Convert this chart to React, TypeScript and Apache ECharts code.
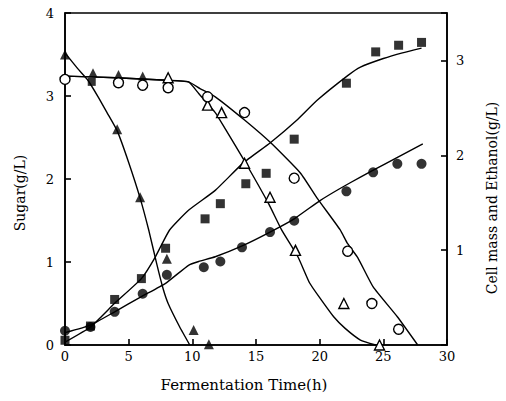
import React, { useEffect, useRef } from 'react';
import * as echarts from 'echarts';

// ---- Data (time h, value g/L) ----
// Sugar (left axis)
const fastSugarPoints = [[0, 3.5], [4.1, 2.6], [5.9, 1.78], [8.0, 1.04], [10.1, 0.18], [11.3, 0.01]];
const flatTrianglePoints = [[2.2, 3.28], [4.2, 3.26], [6.1, 3.24]];
const oddSquarePoint = [[2.1, 3.17]];
const slowSugarTrianglePoints = [[8.1, 3.22], [11.2, 2.89], [12.3, 2.8], [14.1, 2.19], [16.1, 1.78], [18.1, 1.14], [21.9, 0.5], [24.7, 0]];
const slowSugarCirclePoints = [[0, 3.2], [4.2, 3.16], [6.1, 3.13], [8.1, 3.1], [11.2, 2.99], [14.1, 2.8], [18.0, 2.01], [22.2, 1.13], [24.1, 0.5], [26.2, 0.19]];

const fastSugarCurve = [[0, 3.52], [1, 3.33], [1.8, 3.19], [2.6, 2.99], [3.3, 2.8], [4.1, 2.58], [5, 2.2], [5.9, 1.77], [6.6, 1.37], [7.2, 0.98], [7.7, 0.68], [8.1, 0.5], [9, 0.22], [9.8, 0]];
const triangleCurve = [[0, 3.24], [4, 3.22], [8, 3.19], [9.7, 3.17], [10.5, 3.03], [11.8, 2.8], [12.6, 2.6], [14.2, 2.19], [16, 1.7], [17, 1.39], [18.3, 1.06], [19.2, 0.75], [20, 0.57], [21.1, 0.34], [22, 0.2], [23.2, 0.06], [24.4, 0]];
const circleCurve = [[0, 3.24], [4, 3.22], [8, 3.19], [9.7, 3.17], [10.6, 3.09], [11.8, 2.99], [14.1, 2.71], [16.2, 2.43], [18.5, 2.07], [19.8, 1.77], [21.6, 1.39], [22.2, 1.22], [23, 1.05], [24.2, 0.7], [26.1, 0.34], [27.7, 0]];

// Cell mass and ethanol (right axis)
const cellMassPoints = [[0, 0.05], [2, 0.2], [3.9, 0.48], [6.0, 0.7], [7.9, 1.02], [11.0, 1.33], [12.2, 1.49], [14.2, 1.7], [15.8, 1.81], [18.0, 2.17], [22.1, 2.76], [24.4, 3.09], [26.2, 3.16], [28.0, 3.19]];
const ethanolPoints = [[0, 0.15], [2, 0.19], [3.9, 0.35], [6.1, 0.54], [8.0, 0.74], [10.9, 0.82], [12.2, 0.88], [13.9, 1.03], [16.1, 1.19], [18.0, 1.31], [22.1, 1.62], [24.2, 1.82], [26.1, 1.91], [28.0, 1.91]];
const cellMassCurve = [[0, 0.03], [2, 0.19], [3.9, 0.44], [6.0, 0.7], [7.1, 0.93], [8.2, 1.21], [9.7, 1.42], [11.8, 1.63], [14.0, 1.92], [16.1, 2.13], [18.2, 2.37], [19.8, 2.58], [22.2, 2.84], [23.2, 2.93], [25, 3.02], [26.5, 3.08], [28, 3.13]];
const ethanolCurve = [[0, 0.13], [2, 0.21], [3.9, 0.35], [6, 0.51], [7.9, 0.65], [9.7, 0.84], [10.5, 0.88], [11.8, 0.93], [14, 1.05], [16.1, 1.19], [18, 1.33], [20, 1.52], [21.6, 1.65], [23.2, 1.77], [25, 1.9], [28.1, 2.12]];

const xName = 'Fermentation Time(h)';
const leftName = 'Sugar(g/L)';
const rightName = 'Cell mass and Ethanol(g/L)';

const FONT = 'DejaVu Serif';
const BLACK = '#000';

export default function App() {
  const ref = useRef<HTMLDivElement>(null);
  useEffect(() => {
    if (!ref.current) return;
    const chart = echarts.init(ref.current, undefined, { renderer: 'svg' });
    const lineStyle = { color: BLACK, width: 1.4 };
    const curve = (data: number[][], yAxisIndex: number) => ({
      type: 'line', data, yAxisIndex, showSymbol: false, symbol: 'none', smooth: 0.15,
      lineStyle, z: 2, silent: true,
    });
    const scatter = (data: number[][], yAxisIndex: number, symbol: string, filled: boolean, size: number) => ({
      type: 'scatter', data, yAxisIndex, symbol, symbolSize: size, z: 5, silent: true,
      itemStyle: filled ? { color: BLACK, borderColor: BLACK, borderWidth: 0 } : { color: '#fff', borderColor: BLACK, borderWidth: 1.4, opacity: 1 },
    });
    const axisCommon = {
      axisLine: { show: true, lineStyle: { color: BLACK, width: 1.6 } },
      axisTick: { show: true, inside: true, length: 6, lineStyle: { color: BLACK, width: 1.6 } },
      splitLine: { show: false },
      axisLabel: { color: BLACK, fontFamily: FONT, fontSize: 13 },
    };
    chart.setOption({
      animation: false,
      backgroundColor: '#fff',
      grid: { left: 65, right: 59, top: 13, bottom: 56, show: true, borderColor: BLACK, borderWidth: 1.6, backgroundColor: 'transparent' },
      xAxis: {
        type: 'value', min: 0, max: 30, interval: 5, ...axisCommon,
        axisLabel: { ...axisCommon.axisLabel, margin: 5 },
      },
      yAxis: [
        {
          type: 'value', min: 0, max: 4, interval: 1, position: 'left', ...axisCommon,
          axisLabel: { ...axisCommon.axisLabel, margin: 11 },
        },
        {
          type: 'value', min: 0, max: 3.5, interval: 1, position: 'right', ...axisCommon,
          axisLabel: { ...axisCommon.axisLabel, margin: 9, formatter: (v: number) => (v === 0 || v > 3.2 ? '' : String(v)) },
        },
      ],
      graphic: [
        { type: 'text', x: 244, y: 385, style: { text: xName, font: `15px "${FONT}"`, fill: BLACK, align: 'center', verticalAlign: 'middle' } },
        { type: 'text', x: 20, y: 193, rotation: Math.PI / 2, style: { text: leftName, font: `14px "${FONT}"`, fill: BLACK, align: 'center', verticalAlign: 'middle' } },
        { type: 'text', x: 492, y: 198, rotation: Math.PI / 2, style: { text: rightName, font: `14px "${FONT}"`, fill: BLACK, align: 'center', verticalAlign: 'middle' } },
      ],
      series: [
        curve(fastSugarCurve, 0),
        curve(triangleCurve, 0),
        curve(circleCurve, 0),
        curve(cellMassCurve, 1),
        curve(ethanolCurve, 1),
        scatter(fastSugarPoints, 0, 'triangle', true, 10),
        scatter(flatTrianglePoints, 0, 'triangle', true, 9),
        scatter(oddSquarePoint, 0, 'rect', true, 8),
        scatter(slowSugarTrianglePoints, 0, 'triangle', false, 10),
        scatter(slowSugarCirclePoints, 0, 'circle', false, 10),
        scatter(cellMassPoints, 1, 'rect', true, 9),
        scatter(ethanolPoints, 1, 'circle', true, 10),
      ],
    });
    return () => chart.dispose();
  }, []);
  return <div ref={ref} style={{ position: 'fixed', left: 0, top: 0, width: 506, height: 401, background: '#fff' }} />;
}
